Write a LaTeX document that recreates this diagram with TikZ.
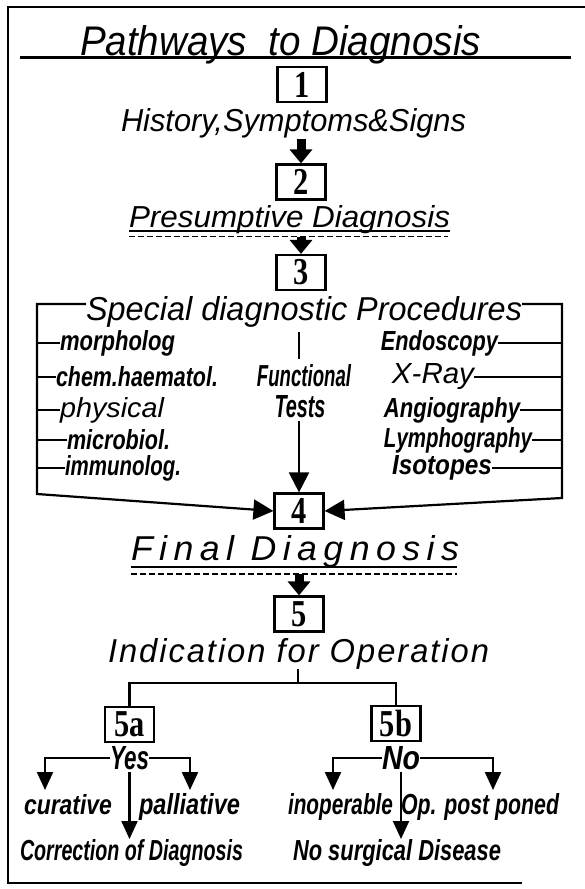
\documentclass[tikz,border=0pt]{standalone}
\usepackage{fontspec}
\usepackage{graphicx}
\usetikzlibrary{arrows.meta}
\newfontfamily\handf{Liberation Sans}
\newfontfamily\spacedf[LetterSpace=18]{Liberation Sans}
\newfontfamily\spacedg[LetterSpace=6]{Liberation Sans}
\newfontfamily\numf[FakeStretch=0.8]{Liberation Serif}
\newcommand\fitbox[3]{\resizebox{#1pt}{#2pt}{#3}}
\newcommand\lighttext[1]{{\handf\itshape #1}}
\newcommand\boldtext[1]{{\handf\bfseries\itshape #1}}
\begin{document}
\begin{tikzpicture}[x=1pt,y=-1pt,line width=2.4pt,
  txt/.style={inner sep=0pt,outer sep=0pt},
  numbox/.style={draw,line width=2.2pt,minimum width=49pt,minimum height=35pt,inner sep=0pt,
    font=\numf\bfseries\fontsize{38pt}{38pt}\selectfont},
  bigarrow/.style={line width=9pt,-{Triangle[width=22pt,length=14pt]}},
  thinarrow/.style={line width=2.2pt,-{Triangle[width=20pt,length=20pt]}},
  smallarrow/.style={line width=2.2pt,-{Triangle[width=16pt,length=18pt]}},
  uline/.style={line width=1.8pt},
  dline/.style={line width=1.8pt,dash pattern=on 6pt off 3pt}]
\useasboundingbox (0,0) rectangle (585,889);
% frame
\draw[line width=2.4pt] (585,7) -- (8,7) -- (8,883) -- (522,883);
% title
\node[txt,anchor=base west] (title) at (80,55) {\fitbox{401}{30}{\lighttext{Pathways\ \ to Diagnosis}}};
\draw[line width=3pt] (20,57) -- (571,57);
% boxes
\node[numbox] (b1) at (302,84.5) {1};
\node[numbox] (b2) at (301,182) {2};
\node[numbox] (b3) at (301,272.5) {3};
\node[numbox] (b4) at (299,511) {4};
\node[numbox] (b5) at (299,614) {5};
\node[numbox] (b5a) at (129.5,724.5) {5a};
\node[numbox] (b5b) at (396,723.5) {5b};
% history
\node[txt,anchor=base west] (hist) at (121,131) {\fitbox{345}{23}{\lighttext{History,Symptoms\&Signs}}};
\draw[bigarrow] ([yshift=-1pt]hist.south -| b2.north) -- (b2.north);
% presumptive
\node[txt,anchor=base west] (pres) at (129,227) {\fitbox{321}{22}{\lighttext{Presumptive Diagnosis}}};
\draw[uline] (129,231) -- (450,231);
\coordinate (pdash) at (129,236.5);
\draw[dline] (pdash) -- (448,236.5);
\draw[bigarrow] (pdash -| b3.north) -- (b3.north);
% special procedures
\node[txt,anchor=base west] (spec) at (86,320) {\fitbox{436}{24}{\lighttext{Special diagnostic Procedures}}};
\coordinate (ltop) at (37,304);
\coordinate (lbot) at (37,494);
\coordinate (rtop) at (562,304);
\coordinate (rbot) at (562,498);
\draw[thinarrow] (spec.west |- ltop) -- (ltop) -- (lbot) -- (b4.west);
\draw[thinarrow] (spec.east |- rtop) -- (rtop) -- (rbot) -- (b4.east);
% left items
\node[txt,anchor=west] (m1) at (60,343) {\fitbox{115}{20}{\boldtext{morpholog}}};
\node[txt,anchor=west] (m2) at (56,377) {\fitbox{162}{20}{\boldtext{chem.haematol.}}};
\node[txt,anchor=west] (m3) at (60,410) {\fitbox{104}{20}{\lighttext{physical}}};
\node[txt,anchor=west] (m4) at (67,440) {\fitbox{103}{20}{\boldtext{microbiol.}}};
\node[txt,anchor=west] (m5) at (65,468) {\fitbox{116}{20}{\boldtext{immunolog.}}};
\foreach \n in {m1,m2,m3,m4,m5} \draw (ltop |- \n.west) -- (\n.west);
% right items
\node[txt,anchor=east] (r1) at (498,343) {\fitbox{117}{20}{\boldtext{Endoscopy}}};
\node[txt,anchor=east] (r2) at (474,377) {\fitbox{82}{20}{\lighttext{X-Ray}}};
\node[txt,anchor=east] (r3) at (520,410) {\fitbox{136}{20}{\boldtext{Angiography}}};
\node[txt,anchor=east] (r4) at (532,440) {\fitbox{148}{20}{\boldtext{Lymphography}}};
\node[txt,anchor=east] (r5) at (492,468) {\fitbox{100}{19}{\boldtext{Isotopes}}};
\foreach \n in {r1,r2,r3,r4,r5} \draw (\n.east) -- (rtop |- \n.east);
% functional tests
\node[txt,anchor=base] (func) at (304,386) {\fitbox{94}{22}{\boldtext{Functional}}};
\node[txt,anchor=base] (tests) at (300,417) {\fitbox{51}{22}{\boldtext{Tests}}};
\draw ([yshift=-5pt]spec.south -| b4.north) -- ([yshift=5pt]func.north -| b4.north);
\draw[thinarrow] ([yshift=-4pt]tests.south -| b4.north) -- (b4.north);
% final diagnosis
\node[txt,anchor=base west] (final) at (131,560) {\fitbox{328}{25}{{\spacedf\itshape Final Diagnosis}}};
\draw[uline] (131,567) -- (457,567);
\coordinate (fdash) at (131,574);
\draw[dline] (fdash) -- (457,574);
\draw[bigarrow] (fdash -| b5.north) -- (b5.north);
% indication
\node[txt,anchor=base west] (ind) at (108,662) {\fitbox{381}{24}{{\spacedg\itshape Indication for Operation}}};
\coordinate (br) at (298,683);
\draw (ind.south -| br) -- (br);
\draw (b5a.north) |- (br) -| (b5b.north);
% yes branch
\node[txt,anchor=base west] (yes) at (110,769) {\fitbox{39}{23}{\boldtext{Yes}}};
\node[txt,anchor=base west] (cur) at (24,814) {\fitbox{88}{20}{\boldtext{curative}}};
\node[txt,anchor=base west] (pal) at (139,814) {\fitbox{101}{21}{\boldtext{palliative}}};
\node[txt,anchor=base west] (corr) at (20,860) {\fitbox{223}{21}{\boldtext{Correction of Diagnosis}}};
\coordinate (ya1) at (45,790);
\coordinate (ya2) at (190,790);
\draw[smallarrow] (yes.west) -| (ya1);
\draw[smallarrow] (yes.east) -| (ya2);
\draw[smallarrow] ([yshift=-3pt]yes.south) -- (yes.south |- corr.north);
% no branch
\node[txt,anchor=base west] (no) at (382,769) {\fitbox{38}{23}{\boldtext{No}}};
\node[txt,anchor=base west] (inop) at (288,814) {\fitbox{105}{21}{\boldtext{inoperable}}};
\node[txt,anchor=base west] (post) at (401,814) {\fitbox{158}{21}{\boldtext{Op. post poned}}};
\node[txt,anchor=base west] (nsd) at (293,860) {\fitbox{208}{21}{\boldtext{No surgical Disease}}};
\coordinate (na1) at (333,790);
\coordinate (na2) at (493,790);
\draw[smallarrow] (no.west) -| (na1);
\draw[smallarrow] (no.east) -| (na2);
\draw[smallarrow] ([yshift=-3pt]no.south) -- (no.south |- nsd.north);
\end{tikzpicture}
\end{document}
